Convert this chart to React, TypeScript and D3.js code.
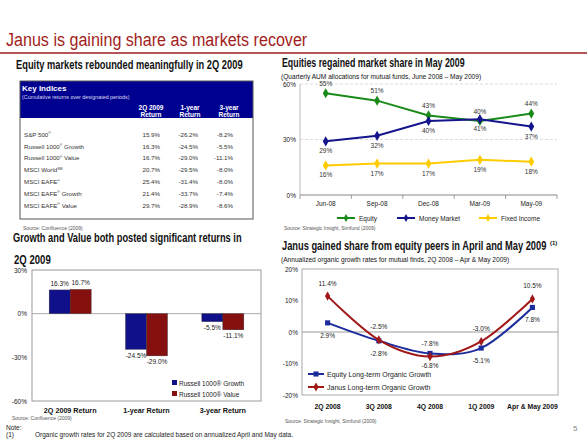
import React, { useLayoutEffect, useRef, useState } from "react";
import * as d3 from "d3";

// ---------- DATA ----------
const tableNames = ["S&P 500", "Russell 1000", "Russell 1000", "MSCI World", "MSCI EAFE", "MSCI EAFE", "MSCI EAFE"];
const tableMarks = ["®", "®", "®", "SM", "®", "®", "®"];
const tableSuffix = ["", " Growth", " Value", "", "", " Growth", " Value"];
const q2Returns = ["15.9%", "16.3%", "16.7%", "20.7%", "25.4%", "21.4%", "29.7%"];
const oneYearReturns = ["-26.2%", "-24.5%", "-29.0%", "-29.5%", "-31.4%", "-33.7%", "-28.9%"];
const threeYearReturns = ["-8.2%", "-5.5%", "-11.1%", "-8.0%", "-8.0%", "-7.4%", "-8.6%"];

const shareMonths = ["Jun-08", "Sep-08", "Dec-08", "Mar-09", "May-09"];
const equityShare = [55, 51, 43, 40, 44];
const moneyMarketShare = [29, 32, 40, 41, 37];
const fixedIncomeShare = [16, 17, 17, 19, 18];
const shareTicks = [0, 30, 60];

const barCategories = ["2Q 2009 Return", "1-year Return", "3-year Return"];
const growthReturns = [16.3, -24.5, -5.5];
const valueReturns = [16.7, -29.0, -11.1];
const barTicks = [30, 0, -30, -60];

const growthQuarters = ["2Q 2008", "3Q 2008", "4Q 2008", "1Q 2009", "Apr & May 2009"];
const equityGrowth = [2.9, -2.8, -6.8, -5.1, 7.8];
const janusGrowth = [11.4, -2.5, -7.8, -3.0, 10.5];
const growthTicks = [20, 10, 0, -10, -20];

// ---------- STYLE ----------
const SANS = "'Liberation Sans', Arial, sans-serif";
const NARROW = "'Liberation Sans Narrow', 'Liberation Sans', Arial, sans-serif";
const RED = "#A11D21";
const NAVY = "#000090";
const GREEN = "#1A8A1A";
const MM = "#14148C";
const YELLOW = "#FFCC00";
const BAR_BLUE = "#10108A";
const BAR_RED = "#860F0F";
const LINE_BLUE = "#1C2C9C";
const LINE_RED = "#A01818";

const pct = (v: number) => `${v.toFixed(1)}%`;

// text horizontally scaled to a given width (real transform, so its box is honest)
function FitText(props: {
  x: number; y: number; width: number; size: number; family: string;
  weight?: string; fill?: string; children: string;
}) {
  const ref = useRef<SVGTextElement>(null);
  const [k, setK] = useState(1);
  useLayoutEffect(() => {
    if (ref.current) {
      const w = ref.current.getBBox().width;
      if (w > 0) setK(props.width / w);
    }
  }, [props.width, props.children]);
  return (
    <g transform={`translate(${props.x},${props.y}) scale(${k},1)`}>
      <text
        ref={ref}
        x={0}
        y={0}
        fontFamily={props.family}
        fontSize={props.size}
        fontWeight={props.weight || "normal"}
        fill={props.fill || "#111"}
      >
        {props.children}
      </text>
    </g>
  );
}

function ShareChart() {
  const x = d3.scaleBand<string>().domain(shareMonths).range([300, 557]);
  const y = d3.scaleLinear().domain([0, 60]).range([195, 84]);
  const cx = (m: string) => (x(m) as number) + x.bandwidth() / 2;
  const line = d3.line<number>().x((_, i) => cx(shareMonths[i])).y((v) => y(v));
  const diamond = d3.symbol().type(d3.symbolDiamond).size(30)() as string;
  const series = [
    { name: "Equity", data: equityShare, color: GREEN, dy: -7.5 },
    { name: "Money Market", data: moneyMarketShare, color: MM, dy: 12 },
    { name: "Fixed Income", data: fixedIncomeShare, color: YELLOW, dy: 12 },
  ];
  const legendX = [337, 397, 479];
  return (
    <g fontFamily={SANS}>
      {shareTicks.map((t) => (
        <g key={t}>
          {t > 0 && (
            <line x1={300} x2={557} y1={y(t)} y2={y(t)} stroke="#ccc" strokeWidth={0.7} strokeDasharray="3,2" />
          )}
          <text x={296} y={y(t) + 2.5} fontSize={6.5} textAnchor="end" fill="#222">{`${t}%`}</text>
        </g>
      ))}
      <line x1={300} x2={300} y1={84} y2={195} stroke="#bbb" strokeWidth={1} />
      <line x1={300} x2={557} y1={195} y2={195} stroke="#888" strokeWidth={1} />
      {[...shareMonths.map((m) => x(m) as number), 557].map((bx, i) => (
        <line key={i} x1={bx} x2={bx} y1={195} y2={199} stroke="#888" strokeWidth={0.8} />
      ))}
      {shareMonths.map((m) => (
        <text key={m} x={cx(m)} y={206} fontSize={6.5} textAnchor="middle" fill="#222">{m}</text>
      ))}
      {series.map((s) => (
        <g key={s.name}>
          <path d={line(s.data) as string} fill="none" stroke={s.color} strokeWidth={2} />
          {s.data.map((v, i) => (
            <g key={i}>
              <path d={diamond} transform={`translate(${cx(shareMonths[i])},${y(v)})`} fill={s.color} />
              <text x={cx(shareMonths[i])} y={y(v) + s.dy} fontSize={6.5} textAnchor="middle" fill="#333">{`${v}%`}</text>
            </g>
          ))}
        </g>
      ))}
      {series.map((s, i) => (
        <g key={s.name}>
          <line x1={legendX[i]} x2={legendX[i] + 18} y1={218} y2={218} stroke={s.color} strokeWidth={2} />
          <path d={d3.symbol().type(d3.symbolDiamond).size(18)() as string} transform={`translate(${legendX[i] + 9},218)`} fill={s.color} />
          <text x={legendX[i] + 22} y={220.5} fontSize={6.5} fill="#222">{s.name}</text>
        </g>
      ))}
    </g>
  );
}

function BarChart() {
  const x = d3.scaleBand<string>().domain(barCategories).range([32, 261]);
  const y = d3.scaleLinear().domain([-60, 30]).range([401, 270]);
  const inner = d3.scaleBand<string>().domain(["g", "v"]).range([0, 42]);
  const groups = [
    { key: "g", data: growthReturns, color: BAR_BLUE, name: "Russell 1000® Growth" },
    { key: "v", data: valueReturns, color: BAR_RED, name: "Russell 1000® Value" },
  ];
  return (
    <g fontFamily={SANS}>
      <rect x={32} y={270} width={229} height={131} fill="none" stroke="#999" strokeWidth={1} />
      <line x1={32} x2={261} y1={y(0)} y2={y(0)} stroke="#aaa" strokeWidth={1} />
      {barTicks.map((t) => (
        <text key={t} x={27} y={y(t) + 2.5} fontSize={6.5} textAnchor="end" fill="#222">{`${t}%`}</text>
      ))}
      {groups.map((g) =>
        g.data.map((v, i) => {
          const c = barCategories[i];
          const bx = (x(c) as number) + x.bandwidth() / 2 - 21 + (inner(g.key) as number);
          const top = y(Math.max(0, v));
          const bot = y(Math.min(0, v));
          return (
            <g key={g.key + i}>
              <rect x={bx} y={top} width={inner.bandwidth()} height={bot - top} fill={g.color} stroke="#333" strokeWidth={0.4} />
              <text
                x={bx + inner.bandwidth() / 2}
                y={v >= 0 ? top - 4 : bot + 8.5}
                fontSize={6.5}
                textAnchor="middle"
                fill="#222"
              >
                {pct(v)}
              </text>
            </g>
          );
        })
      )}
      {barCategories.map((c) => (
        <text key={c} x={(x(c) as number) + x.bandwidth() / 2} y={413} fontSize={7.2} fontWeight="bold" textAnchor="middle" fill="#111">{c}</text>
      ))}
      {groups.map((g, i) => (
        <g key={g.key}>
          <rect x={172} y={380 + i * 11} width={5} height={5} fill={g.color} />
          <text x={179} y={385.5 + i * 11} fontSize={6.5} fill="#222">{g.name}</text>
        </g>
      ))}
    </g>
  );
}

function GrowthChart() {
  const x = d3.scaleBand<string>().domain(growthQuarters).range([302, 558]);
  const y = d3.scaleLinear().domain([-20, 20]).range([395, 269]);
  const cx = (q: string) => (x(q) as number) + x.bandwidth() / 2;
  const line = d3
    .line<number>()
    .x((_, i) => cx(growthQuarters[i]))
    .y((v) => y(v))
    .curve(d3.curveCardinal.tension(0));
  const sq = d3.symbol().type(d3.symbolSquare).size(26)() as string;
  const dm = d3.symbol().type(d3.symbolDiamond).size(24)() as string;
  const series = [
    { name: "Equity Long-term Organic Growth", data: equityGrowth, color: LINE_BLUE, marker: sq, dy: 15 },
    { name: "Janus Long-term Organic Growth", data: janusGrowth, color: LINE_RED, marker: dm, dy: -10.5 },
  ];
  return (
    <g fontFamily={SANS}>
      <rect x={302} y={269} width={256} height={126} fill="none" stroke="#aaa" strokeWidth={1} />
      <line x1={302} x2={558} y1={y(0)} y2={y(0)} stroke="#999" strokeWidth={1} />
      {growthTicks.map((t) => (
        <text key={t} x={298} y={y(t) + 2.5} fontSize={6.5} textAnchor="end" fill="#222">{`${t}%`}</text>
      ))}
      {growthQuarters.map((q) => (
        <text key={q} x={cx(q)} y={409} fontSize={6.8} textAnchor="middle" fill="#111" fontWeight="bold">{q}</text>
      ))}
      {series.map((s) => (
        <g key={s.name}>
          <path d={line(s.data) as string} fill="none" stroke={s.color} strokeWidth={2} />
          {s.data.map((v, i) => (
            <g key={i}>
              <path d={s.marker} transform={`translate(${cx(growthQuarters[i])},${y(v)})`} fill={s.color} />
              <text x={cx(growthQuarters[i])} y={y(v) + s.dy} fontSize={6.5} textAnchor="middle" fill="#222">{pct(v)}</text>
            </g>
          ))}
        </g>
      ))}
      {series.map((s, i) => (
        <g key={s.name}>
          <line x1={308} x2={324} y1={374 + i * 13} y2={374 + i * 13} stroke={s.color} strokeWidth={2} />
          <path d={s.marker} transform={`translate(316,${374 + i * 13})`} fill={s.color} />
          <text x={327} y={376.5 + i * 13} fontSize={7} fill="#222">{s.name}</text>
        </g>
      ))}
    </g>
  );
}

function KeyTable() {
  const rowY = (i: number) => 134.5 + i * 11.8;
  const cols = [
    { vals: q2Returns, right: 160, center: 151, head: "2Q 2009" },
    { vals: oneYearReturns, right: 198, center: 190, head: "1-year" },
    { vals: threeYearReturns, right: 233, center: 229, head: "3-year" },
  ];
  return (
    <g fontFamily={SANS}>
      <rect x={20} y={81} width={233} height={37} fill={NAVY} />
      <rect x={20} y={81} width={233} height={138} fill="none" stroke="#555" strokeWidth={1} />
      <text x={22} y={91} fontSize={8} fontWeight="bold" fill="#fff">Key Indices</text>
      <FitText x={22} y={98.5} width={108} size={5} family={SANS} fill="#dde">(Cumulative returns over designated periods)</FitText>
      {cols.map((c) => (
        <g key={c.head}>
          <text x={c.center} y={109.5} fontSize={6.5} fontWeight="bold" fill="#fff" textAnchor="middle">{c.head}</text>
          <text x={c.center} y={116.5} fontSize={6.5} fontWeight="bold" fill="#fff" textAnchor="middle">Return</text>
        </g>
      ))}
      {tableNames.map((n, i) => (
        <g key={i}>
          <text x={24} y={rowY(i) + 2.3} fontSize={6.2} fill="#333">
            {n}
            <tspan fontSize={3.5} dy={-2.5}>{tableMarks[i]}</tspan>
            <tspan dy={2.5}>{tableSuffix[i]}</tspan>
          </text>
          {cols.map((c) => (
            <text key={c.head} x={c.right} y={rowY(i) + 2.3} fontSize={6.2} fill="#333" textAnchor="end">{c.vals[i]}</text>
          ))}
        </g>
      ))}
    </g>
  );
}

export default function App() {
  return (
    <svg width={587} height={440} style={{ position: "absolute", left: 0, top: 0, background: "#fff" }}>
      <rect width={587} height={440} fill="#fff" />
      <FitText x={6} y={45.5} width={302} size={19} family={SANS} fill={RED}>Janus is gaining share as markets recover</FitText>
      <line x1={0} x2={587} y1={53} y2={53} stroke={RED} strokeWidth={1.5} />

      <FitText x={16} y={68.5} width={227} size={12} family={NARROW} weight="bold">Equity markets rebounded meaningfully in 2Q 2009</FitText>
      <KeyTable />
      <text x={23} y={229.5} fontFamily={SANS} fontSize={5} fill="#555">Source: Confluence (2009)</text>

      <FitText x={282} y={66.5} width={183} size={12} family={NARROW} weight="bold">Equities regained market share in May 2009</FitText>
      <FitText x={281} y={79} width={201} size={7.5} family={NARROW}>(Quarterly AUM allocations for mutual funds, June 2008 – May 2009)</FitText>
      <ShareChart />
      <text x={284} y={230} fontFamily={SANS} fontSize={5} fill="#555">Source: Strategic Insight, Simfund (2009)</text>

      <FitText x={13} y={242} width={229} size={12} family={NARROW} weight="bold">Growth and Value both posted significant returns in</FitText>
      <FitText x={14} y={264} width={37} size={12} family={NARROW} weight="bold">2Q 2009</FitText>
      <BarChart />
      <text x={12} y={420} fontFamily={SANS} fontSize={5} fill="#555">Source: Confluence (2009)</text>

      <FitText x={282} y={250} width={265} size={12} family={NARROW} weight="bold">Janus gained share from equity peers in April and May 2009</FitText>
      <text x={550} y={244.5} fontFamily={SANS} fontSize={6} fontWeight="bold" fill="#111">(1)</text>
      <FitText x={281} y={261.5} width={229} size={7.5} family={NARROW}>(Annualized organic growth rates for mutual finds, 2Q 2008 – Apr &amp; May 2009)</FitText>
      <GrowthChart />
      <text x={285} y={423} fontFamily={SANS} fontSize={5} fill="#555">Source: Strategic Insight, Simfund (2009)</text>

      <text x={6} y={430} fontFamily={SANS} fontSize={6.5} fill="#222">Note:</text>
      <text x={6} y={437} fontFamily={SANS} fontSize={6.5} fill="#222">(1)</text>
      <text x={35} y={437} fontFamily={SANS} fontSize={6.5} fill="#222">Organic growth rates for 2Q 2009 are calculated based on annualized April and May data.</text>
      <text x={573} y={431} fontFamily={SANS} fontSize={8} fill="#888">5</text>
    </svg>
  );
}
